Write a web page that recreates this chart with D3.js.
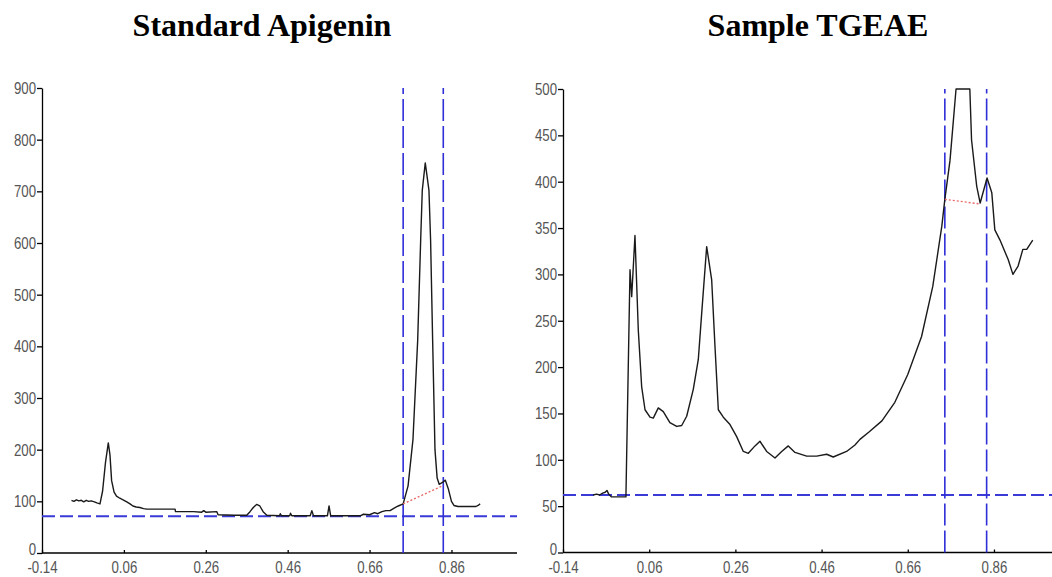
<!DOCTYPE html>
<html>
<head>
<meta charset="utf-8">
<script src="https://cdn.jsdelivr.net/npm/d3@7"></script>
<style>
  html, body { margin: 0; padding: 0; background: #fff; }
  svg { display: block; }
  .title { font-family: "Liberation Serif", "Times New Roman", serif; font-weight: bold; font-size: 32px; fill: #000; }
  .axis path, .axis line { stroke: #000; stroke-width: 1.3; }
  .axis text { font-family: "Liberation Sans", Arial, sans-serif; font-size: 17px; fill: #555; }
</style>
</head>
<body>
<svg id="chart" width="1052" height="577"></svg>
<script>
// Densitometric scan traces (Rf vs. absorbance units)
const xTicks = [-0.14, 0.06, 0.26, 0.46, 0.66, 0.86];
const xTickLabels = ["-0.14", "0.06", "0.26", "0.46", "0.66", "0.86"];

const standardYTicks = [0, 100, 200, 300, 400, 500, 600, 700, 800, 900];
const sampleYTicks = [0, 50, 100, 150, 200, 250, 300, 350, 400, 450, 500];

// Standard apigenin trace: [Rf, AU]
const standardTrace = [
  [-0.068, 102], [-0.062, 100], [-0.056, 103], [-0.050, 101], [-0.044, 102], [-0.038, 99],
  [-0.032, 102], [-0.026, 100], [-0.020, 101], [-0.012, 99], [-0.006, 97], [0.0016, 95],
  [0.008, 120], [0.015, 175], [0.0219, 213], [0.026, 190], [0.030, 140], [0.036, 118],
  [0.042, 110], [0.050, 106], [0.058, 103], [0.067, 99], [0.075, 95], [0.082, 91],
  [0.090, 89], [0.099, 88], [0.108, 86], [0.116, 85], [0.150, 85], [0.185, 85],
  [0.186, 80], [0.230, 80], [0.250, 79], [0.255, 82], [0.260, 79], [0.287, 80],
  [0.290, 74], [0.330, 73], [0.360, 73], [0.368, 80], [0.376, 88], [0.384, 94],
  [0.392, 91], [0.400, 80], [0.409, 73], [0.440, 72], [0.442, 76], [0.445, 72],
  [0.465, 72], [0.467, 77], [0.470, 72], [0.515, 72], [0.519, 82], [0.523, 72],
  [0.557, 72], [0.561, 91], [0.565, 72], [0.637, 72], [0.645, 75], [0.660, 74],
  [0.672, 78], [0.680, 76], [0.690, 80], [0.700, 82], [0.710, 82], [0.720, 87],
  [0.730, 91], [0.742, 95], [0.754, 130], [0.766, 220], [0.7775, 412], [0.7848, 606],
  [0.7887, 702], [0.796, 755], [0.805, 702], [0.809, 606], [0.814, 412], [0.8197, 200],
  [0.825, 145], [0.830, 133], [0.839, 137], [0.845, 141], [0.852, 125], [0.860, 100],
  [0.866, 92], [0.876, 90], [0.920, 90], [0.925, 92], [0.930, 95]
];

// Sample TGEAE trace: [Rf, AU]
const sampleTrace = [
  [-0.070, 62], [-0.062, 63], [-0.055, 62], [-0.048, 64], [-0.042, 65], [-0.038, 67],
  [-0.034, 63], [-0.028, 60], [-0.020, 60], [0.000, 60], [0.006, 60], [0.0155, 305],
  [0.0194, 276], [0.027, 342], [0.0347, 240], [0.0425, 179], [0.0503, 154], [0.0619, 146],
  [0.0695, 145], [0.0811, 156], [0.0927, 152], [0.108, 140], [0.1238, 136], [0.1354, 137],
  [0.147, 147], [0.1623, 176], [0.1739, 208], [0.1818, 258], [0.1934, 330], [0.205, 294],
  [0.2127, 222], [0.2204, 154], [0.232, 146], [0.2475, 138], [0.263, 125], [0.2784, 109],
  [0.290, 107], [0.3055, 115], [0.317, 120], [0.3326, 109], [0.3519, 102], [0.3674, 109],
  [0.3828, 115], [0.3983, 108], [0.4254, 104], [0.4486, 104], [0.4718, 106], [0.487, 103],
  [0.518, 109], [0.5375, 116], [0.549, 122], [0.570, 130], [0.600, 142], [0.630, 162],
  [0.660, 192], [0.692, 233], [0.718, 287], [0.739, 352], [0.746, 381], [0.758, 423],
  [0.772, 500], [0.804, 500], [0.808, 445], [0.820, 395], [0.828, 377], [0.844, 404],
  [0.855, 388], [0.862, 348], [0.874, 337], [0.893, 316], [0.904, 300], [0.916, 309],
  [0.927, 327], [0.936, 327], [0.950, 337]
];

// Integration window, baseline and threshold for each scan
const standardWindow = [0.742, 0.840];
const standardBaseline = [[0.742, 95], [0.838, 130]];
const standardThreshold = 71;

const sampleWindow = [0.746, 0.843];
const sampleBaseline = [[0.746, 381], [0.828, 376]];
const sampleThreshold = 62;

const panels = [
  { title: "Standard Apigenin", titleX: 262, trace: standardTrace, yMax: 900, yTicks: standardYTicks,
    xRange: [42, 508.8], yRange: [553, 88], win: standardWindow, base: standardBaseline,
    thr: standardThreshold, thrEnd: 517 },
  { title: "Sample TGEAE", titleX: 818, trace: sampleTrace, yMax: 500, yTicks: sampleYTicks,
    xRange: [563, 1054.3], yRange: [552.5, 89], win: sampleWindow, base: sampleBaseline,
    thr: sampleThreshold, thrEnd: 1052 }
];

const svg = d3.select("#chart");
const squeeze = 0.78;  // narrow tick lettering

panels.forEach(p => {
  const x = d3.scaleLinear().domain([-0.14, 1.0]).range(p.xRange);
  const y = d3.scaleLinear().domain([0, p.yMax]).range(p.yRange);
  const g = svg.append("g");

  g.append("text").attr("class", "title")
    .attr("x", p.titleX).attr("y", 36).attr("text-anchor", "middle")
    .text(p.title);

  // axes
  const yAxis = g.append("g").attr("class", "axis")
    .attr("transform", `translate(${p.xRange[0]},0)`)
    .call(d3.axisLeft(y).tickValues(p.yTicks).tickFormat(d3.format("d")).tickSizeInner(5).tickSizeOuter(0));
  yAxis.selectAll("text").attr("x", -6 / squeeze).attr("transform", `scale(${squeeze},1)`);
  // lift the zero label slightly so it clears the first Rf label
  yAxis.selectAll(".tick").filter(d => d === 0).select("text").attr("dy", "0.1em");

  const xAxis = g.append("g").attr("class", "axis")
    .attr("transform", `translate(0,${p.yRange[0]})`)
    .call(d3.axisBottom(x).tickValues(xTicks).tickFormat((d, i) => xTickLabels[i]).tickSizeInner(-3).tickSizeOuter(0));
  xAxis.select(".domain").attr("d", `M${p.xRange[0]},0H${p.thrEnd}`);
  xAxis.selectAll("text").attr("y", 8).attr("dy", "0.71em").attr("transform", `scale(${squeeze},1)`);

  // threshold line
  g.append("line")
    .attr("x1", p.xRange[0]).attr("x2", p.thrEnd)
    .attr("y1", y(p.thr)).attr("y2", y(p.thr))
    .attr("stroke", "#3a3ad6").attr("stroke-width", 2).attr("stroke-dasharray", "13,5");

  // integration window
  p.win.forEach(w => {
    g.append("line")
      .attr("x1", x(w)).attr("x2", x(w))
      .attr("y1", y(0)).attr("y2", y(p.yMax))
      .attr("stroke", "#2f2fd8").attr("stroke-width", 1.6).attr("stroke-dasharray", "22,5");
  });

  // trace
  const line = d3.line().x(d => x(d[0])).y(d => y(d[1]));
  g.append("path").datum(p.trace)
    .attr("d", line)
    .attr("fill", "none").attr("stroke", "#1a1a1a").attr("stroke-width", 1.4)
    .attr("stroke-linejoin", "round");

  // peak baseline
  g.append("path").datum(p.base)
    .attr("d", line)
    .attr("fill", "none").attr("stroke", "#e86a6a").attr("stroke-width", 1.4)
    .attr("stroke-dasharray", "2,2");
});
</script>
</body>
</html>
